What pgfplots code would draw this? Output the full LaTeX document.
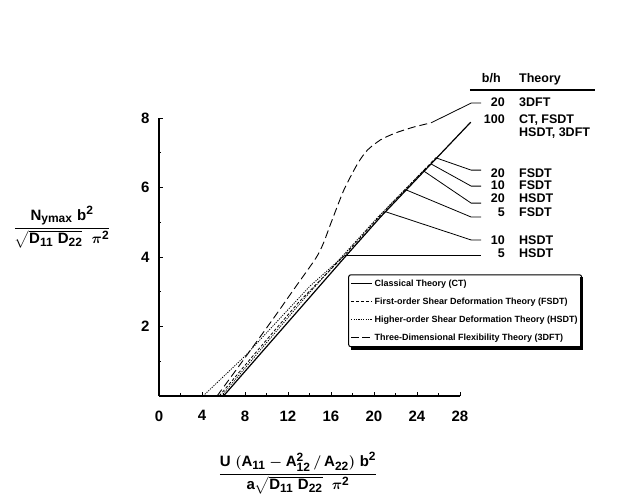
\documentclass[border=0pt]{standalone}
\usepackage{amsmath}
\usepackage{fontspec}
\setmainfont{Liberation Sans}
\usepackage{pgfplots}
\pgfplotsset{compat=1.18}
\DeclareMathSizes{15}{15}{12}{9.5}
\tikzset{lbl/.style={inner sep=0pt, font=\fontsize{12.5}{13}\selectfont\bfseries}}

\begin{document}
\begin{tikzpicture}[x=1pt,y=1pt]
\useasboundingbox (-159,-102) rectangle (463,396);
\begin{axis}[
  scale only axis, width=301pt, height=278pt,
  xmin=0, xmax=28, ymin=0, ymax=8,
  axis lines*=left, clip=false,
  axis line style={line width=1.1pt},
  tick align=inside, tick style={line width=0.9pt, black},
  major tick length=4pt, minor tick length=2.5pt,
  xtick={0,4,...,28}, minor x tick num=1,
  ytick={2,4,6,8}, minor ytick={1,3,5,7},
  /pgf/number format/assume math mode=true,
  ticklabel style={font=\fontsize{15}{15}\selectfont\bfseries},
  xticklabel style={yshift=-11pt},
  yticklabel style={xshift=-6pt},
  legend style={at={(axis cs:17.6,3.50)}, anchor=north west,
    font=\fontsize{9}{10}\selectfont\bfseries, draw=black, fill=white,
    line width=1pt, rounded corners=2pt,
    row sep=5.9pt, inner xsep=2pt, inner ysep=3pt},
  legend cell align=left,
  legend image code/.code={\draw[#1, line width=0.9pt] (0pt,0pt) -- (21pt,0pt);},
]
% classical theory, all b/h
\addplot[forget plot, black, line width=1.2pt] coordinates {
  (6.0,0) (17.3,4.0) (20.6,5.15) (29.0,7.88)};
% higher-order theory, b/h = 5
\addplot[forget plot, black, line width=0.8pt, dash pattern=on 1.2pt off 1.2pt] coordinates {
  (4.1,0) (8.0,1.15) (11.0,2.15) (14.0,3.15) (17.3,4.06)};
% higher-order theory, b/h = 10, 20
\addplot[forget plot, black, line width=0.8pt, dash pattern=on 1.2pt off 1.2pt] coordinates {
  (5.8,0) (9.5,1.35) (13.5,2.8) (17.1,4.04) (20.4,5.16) (24.65,6.5)};
% first-order theory
\addplot[forget plot, black, line width=0.8pt, dash pattern=on 3pt off 2pt] coordinates {
  (5.6,0) (9.0,1.25) (13.0,2.7) (17.2,4.03) (20.5,5.17) (25.8,6.87)};
% three-dimensional flexibility theory, b/h = 20
\addplot[forget plot, black, line width=0.9pt, smooth, tension=0.4, dash pattern=on 8pt off 4pt] coordinates {
  (5.4,0) (8.0,1.1) (10.8,2.3) (12.5,3.05) (14.6,3.97) (15.3,4.4) (16.0,4.98)
  (17.2,5.93) (18.5,6.7) (19.4,7.08) (20.6,7.37) (22.0,7.57) (23.7,7.74) (25.3,7.86)};

% leader lines to the labels
\addplot[forget plot, black, line width=0.8pt] coordinates {(25.3,7.86) (29.04,8.43) (29.97,8.43)};
\addplot[forget plot, black, line width=0.8pt] coordinates {(25.8,6.85) (29.04,6.50) (29.97,6.50)};
\addplot[forget plot, black, line width=0.8pt] coordinates {(25.3,6.68) (29.04,6.04) (29.97,6.04)};
\addplot[forget plot, black, line width=0.8pt] coordinates {(24.65,6.47) (29.04,5.55) (29.97,5.55)};
\addplot[forget plot, black, line width=0.8pt] coordinates {(23.0,5.93) (29.04,5.15) (29.97,5.15)};
\addplot[forget plot, black, line width=0.8pt] coordinates {(21.1,5.3) (29.04,4.49) (29.97,4.49)};
\addplot[forget plot, black, line width=0.8pt] coordinates {(17.3,4.06) (29.97,4.06)};

\addlegendimage{black}
\addlegendentry{Classical Theory (CT)}
\addlegendimage{black, dash pattern=on 3pt off 2pt}
\addlegendentry{First-order Shear Deformation Theory (FSDT)}
\addlegendimage{black, dash pattern=on 1.2pt off 1.2pt}
\addlegendentry{Higher-order Shear Deformation Theory (HSDT)}
\addlegendimage{black, dash pattern=on 8pt off 3pt}
\addlegendentry{Three-Dimensional Flexibility Theory (3DFT)}

% label table
\node[lbl, anchor=mid east] at (axis cs:31.8,9.09) {b/h};
\node[lbl, anchor=mid west] at (axis cs:33.49,9.09) {Theory};
\draw[line width=2.5pt] (axis cs:28.93,8.81) -- (axis cs:40.56,8.81);
\node[lbl, anchor=mid east] at (axis cs:32.19,8.40) {20};
\node[lbl, anchor=mid west] at (axis cs:33.49,8.40) {3DFT};
\node[lbl, anchor=mid east] at (axis cs:32.19,7.91) {100};
\node[lbl, anchor=mid west] at (axis cs:33.49,7.91) {CT, FSDT};
\node[lbl, anchor=mid west] at (axis cs:33.49,7.54) {HSDT, 3DFT};
\node[lbl, anchor=mid east] at (axis cs:32.19,6.36) {20};
\node[lbl, anchor=mid west] at (axis cs:33.49,6.36) {FSDT};
\node[lbl, anchor=mid east] at (axis cs:32.19,6.01) {10};
\node[lbl, anchor=mid west] at (axis cs:33.49,6.01) {FSDT};
\node[lbl, anchor=mid east] at (axis cs:32.19,5.64) {20};
\node[lbl, anchor=mid west] at (axis cs:33.49,5.64) {HSDT};
\node[lbl, anchor=mid east] at (axis cs:32.19,5.24) {5};
\node[lbl, anchor=mid west] at (axis cs:33.49,5.24) {FSDT};
\node[lbl, anchor=mid east] at (axis cs:32.19,4.43) {10};
\node[lbl, anchor=mid west] at (axis cs:33.49,4.43) {HSDT};
\node[lbl, anchor=mid east] at (axis cs:32.19,4.06) {5};
\node[lbl, anchor=mid west] at (axis cs:33.49,4.06) {HSDT};
\end{axis}

% shadow of the legend frame, along its bottom and right edges
\draw[line width=3pt] (192,47.6) -- (422.5,47.6) -- (422.5,118.5);

% axis titles
\node[font=\fontsize{15}{17}\selectfont\boldmath] at (-97,169)
  {$\dfrac{\textbf{N}_{\textbf{ymax}}\;\textbf{b}^{\textbf{2}}}{\sqrt{\textbf{D}_{\textbf{11}}\;\textbf{D}_{\textbf{22}}}\;\;\pi^{\textbf{2}}}$};
\node[font=\fontsize{15}{17}\selectfont\boldmath] at (139,-77)
  {$\dfrac{\textbf{U}\;(\textbf{A}_{\textbf{11}}-\textbf{A}_{\textbf{12}}^{\textbf{2}}\,/\,\textbf{A}_{\textbf{22}})\;\textbf{b}^{\textbf{2}}}{\textbf{a}\sqrt{\textbf{D}_{\textbf{11}}\;\textbf{D}_{\textbf{22}}}\;\;\pi^{\textbf{2}}}$};
\end{tikzpicture}
\end{document}
